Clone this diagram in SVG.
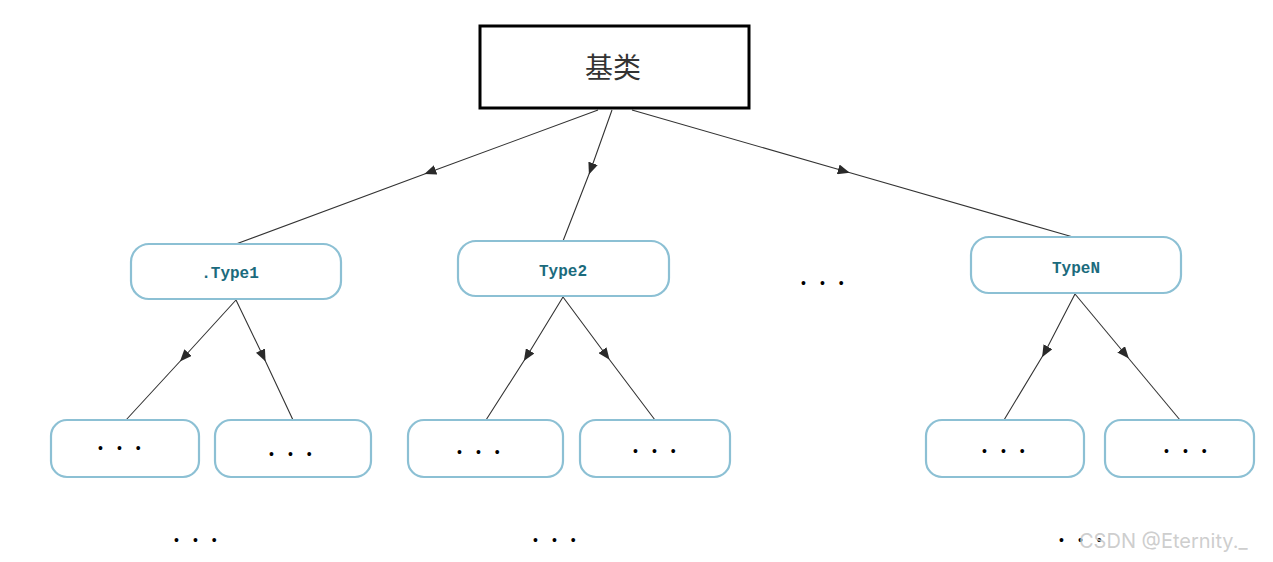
<svg xmlns="http://www.w3.org/2000/svg" width="1273" height="562" viewBox="0 0 1273 562">
<defs>
<marker id="arr" viewBox="0 0 12 10" refX="6" refY="5" markerWidth="12" markerHeight="10" markerUnits="userSpaceOnUse" orient="auto">
<path d="M0,0 L12,5 L0,10 Z" fill="#2a2a2a"/>
</marker>
</defs>
<style>
.conn path{fill:none;stroke:#333;stroke-width:1.1;marker-mid:url(#arr)}
.box{fill:#fff;stroke:#8cc0d4;stroke-width:2.2}
.tl{font-family:"Liberation Mono",monospace;font-weight:bold;font-size:16px;fill:#1b6b7d;text-anchor:middle}
.dots{font-family:"Liberation Sans",sans-serif;font-size:14px;fill:#000;letter-spacing:14px}
</style>
<rect width="1273" height="562" fill="#fff"/>
<g id="connectors" class="conn">
<path d="M598,110 L430,172 L236,244"/>
<path d="M612,110 L591,169 L563,241"/>
<path d="M632,110 L844,171 L1073,237"/>
<path d="M236,300 L184,357 L126,420"/>
<path d="M236,300 L263,356 L293,420"/>
<path d="M563,297 L527,356 L486,420"/>
<path d="M563,297 L606,355 L655,420"/>
<path d="M1075,294 L1045,352 L1004,420"/>
<path d="M1075,294 L1125,354 L1180,420"/>
</g>
<g id="base">
<rect x="480" y="26" width="269" height="82" fill="#fff" stroke="#000" stroke-width="3"/>
<text x="613" y="78" font-family="Noto Sans CJK SC, sans-serif" font-size="28" fill="#333" text-anchor="middle">基类</text>
</g>
<g id="type1">
<rect class="box" x="131" y="244" width="210" height="55" rx="18"/>
<text class="tl" x="230" y="278">.Type1</text>
</g>
<g id="type2">
<rect class="box" x="458" y="241" width="211" height="55" rx="18"/>
<text class="tl" x="563" y="276">Type2</text>
</g>
<g id="ellipsis-mid">
<text class="dots" x="801" y="288">•••</text>
</g>
<g id="typeN">
<rect class="box" x="971" y="237" width="210" height="56" rx="18"/>
<text class="tl" x="1076" y="273">TypeN</text>
</g>
<g id="c1">
<rect class="box" x="51" y="420" width="148" height="57" rx="16"/>
<text class="dots" x="98" y="453">•••</text>
</g>
<g id="c2">
<rect class="box" x="215" y="420" width="156" height="57" rx="16"/>
<text class="dots" x="269" y="459">•••</text>
</g>
<g id="c3">
<rect class="box" x="408" y="420" width="155" height="57" rx="16"/>
<text class="dots" x="457" y="457">•••</text>
</g>
<g id="c4">
<rect class="box" x="580" y="420" width="150" height="57" rx="16"/>
<text class="dots" x="633" y="456">•••</text>
</g>
<g id="c5">
<rect class="box" x="926" y="420" width="158" height="57" rx="16"/>
<text class="dots" x="982" y="456">•••</text>
</g>
<g id="c6">
<rect class="box" x="1105" y="420" width="149" height="57" rx="16"/>
<text class="dots" x="1164" y="456">•••</text>
</g>
<g id="bottom-ellipses">
<text class="dots" x="174" y="545">•••</text>
<text class="dots" x="533" y="545">•••</text>
<text class="dots" x="1059" y="545">•••</text>
</g>
<text x="1079" y="548" font-family="Inter, Liberation Sans, sans-serif" font-size="20" fill="#c8c8c8" fill-opacity="0.9">CSDN @Eternity._</text>
</svg>
